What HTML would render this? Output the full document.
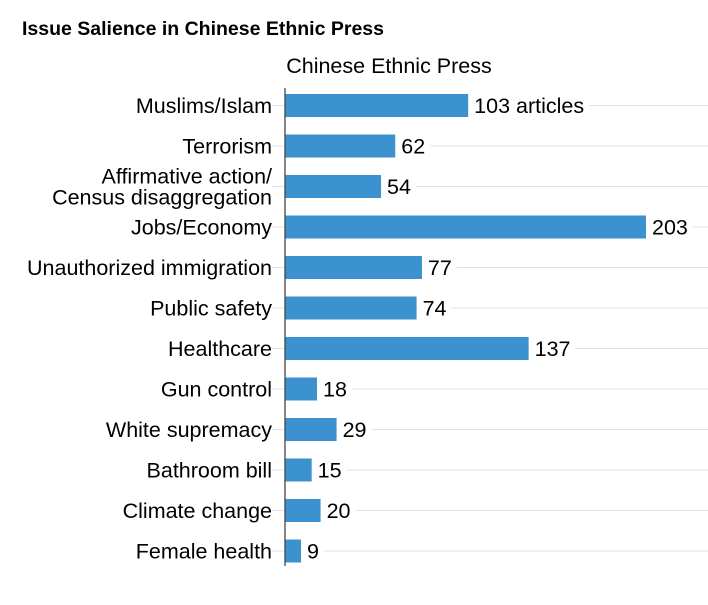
<!DOCTYPE html>
<html><head><meta charset="utf-8"><style>
body{margin:0;background:#fff;font-family:"Liberation Sans",Arial,sans-serif}
</style></head><body>
<svg id="c" width="708" height="600" xmlns="http://www.w3.org/2000/svg">
<text x="22" y="35" font-size="19.5" font-weight="bold" fill="#000">Issue Salience in Chinese Ethnic Press</text>
<text x="389" y="73" font-size="21.5" text-anchor="middle" fill="#000">Chinese Ethnic Press</text>
<g id="g"></g>
</svg>
<script>
const categories=["Muslims/Islam","Terrorism","Affirmative action/|Census disaggregation","Jobs/Economy","Unauthorized immigration","Public safety","Healthcare","Gun control","White supremacy","Bathroom bill","Climate change","Female health"];
const values=[103,62,54,203,77,74,137,18,29,15,20,9];
const valueLabels=["103 articles","62","54","203","77","74","137","18","29","15","20","9"];
const NS="http://www.w3.org/2000/svg";
const g=document.getElementById('g');
const x0=285,k=361/203,y0=105.5,step=40.5,bh=23,fs=21.5;
const xs=v=>x0+v*k, ys=i=>y0+i*step;
function mk(t,a){const e=document.createElementNS(NS,t);for(const n in a)e.setAttribute(n,a[n]);g.appendChild(e);return e;}
categories.forEach((c,i)=>{
  const y=ys(i);
  const gl=mk('line',{x1:272,x2:708,y1:y,y2:y,stroke:'#e2e2e2','stroke-width':1});
  
  
});
categories.forEach((c,i)=>{
  const y=ys(i),xe=xs(values[i]);
  const b=mk('rect',{x:x0,y:y-bh/2,width:xe-x0,height:bh,fill:'#3b92cf'});
  
  
  const t=mk('text',{x:xe+6,y:y+7.5,'font-size':fs,fill:'#000'});
  t.textContent=valueLabels[i];
  const tw=t.getComputedTextLength();
  const bg=mk('rect',{x:xe+1,y:y-11,width:tw+10,height:22,fill:'#fff'});
  g.insertBefore(bg,t);
  
  
  
  
  const parts=c.split('|');
  const l=mk('text',{x:272,'font-size':fs,'text-anchor':'end',fill:'#000'});
  
  
  parts.forEach((p,j)=>{
    const s=document.createElementNS(NS,'tspan');
    s.setAttribute('x',272);
    s.setAttribute('y',y+7.5+(j-(parts.length-1)/2)*21);
    s.textContent=p;l.appendChild(s);
  });
});
const ax=mk('line',{x1:x0,x2:x0,y1:88,y2:566,stroke:'#444','stroke-width':1.3});


</script>
</body></html>
